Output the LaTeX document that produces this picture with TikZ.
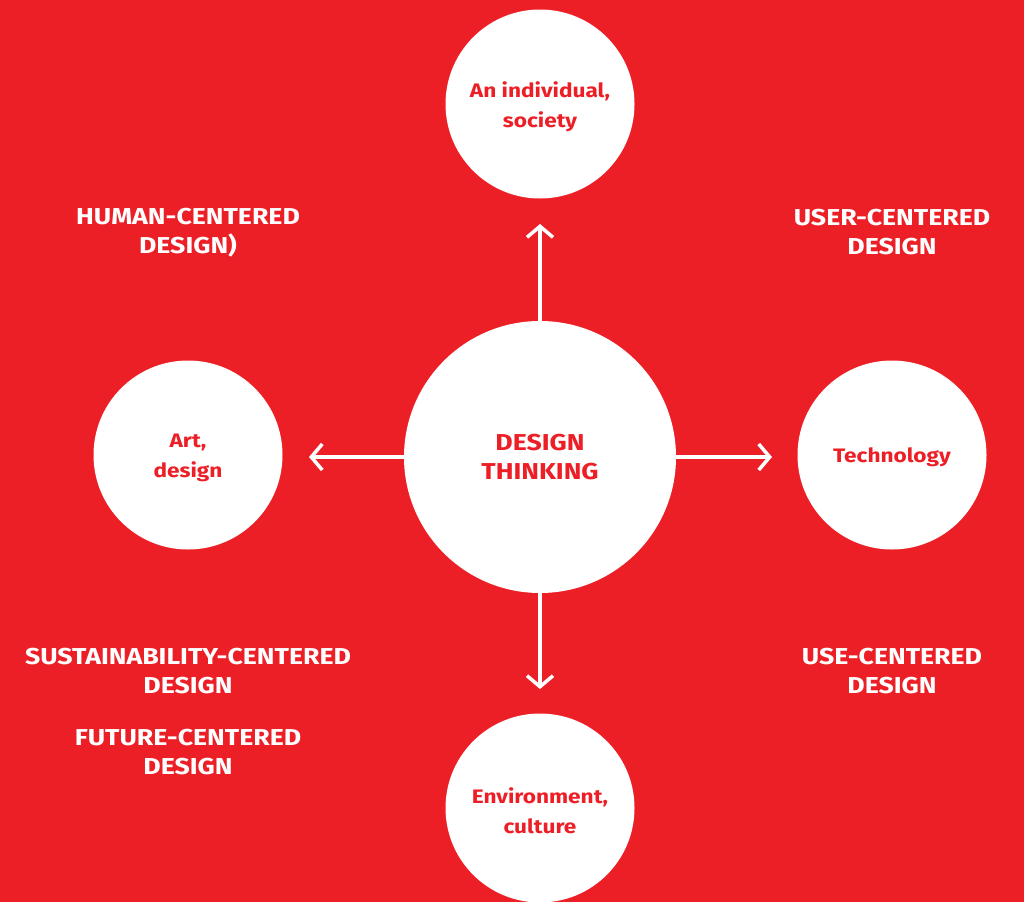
\documentclass[tikz,border=0pt]{standalone}
\usepackage{fontspec}
\setmainfont{Fira Sans}[BoldFont={* Bold},FakeStretch=1.16]
\usetikzlibrary{arrows.meta}
\definecolor{brandred}{HTML}{ED1F26}
\begin{document}
\begin{tikzpicture}[x=1pt,y=-1pt,
  hub/.style={circle,fill=white,minimum size=272pt,inner sep=0pt,text=brandred,
    font=\bfseries\fontsize{23}{29}\selectfont,align=center},
  topic/.style={circle,fill=white,minimum size=189pt,inner sep=0pt,text=brandred,
    font=\bfseries\fontsize{19.5}{30}\selectfont,align=center},
  label/.style={text=white,font=\bfseries\fontsize{23}{29}\selectfont,align=center,inner sep=0pt},
  link/.style={white,line width=3.5pt,
    -{Straight Barb[length=11pt,width=26pt,line width=3.5pt]}}]
  \fill[brandred] (0,0) rectangle (1024,902);
  \useasboundingbox (0,0) rectangle (1024,902);

  % central hub and the four topics around it
  \node[hub]   (dt)   at (540,457) {DESIGN\\THINKING};
  \node[topic] (ind)  at (540,104) {};
  \node[topic] (art)  at (188,455) {};
  \node[topic] (tech) at (892,455) {};
  \node[topic] (env)  at (540,808) {};

  % topic captions, set slightly below the circle centres
  \node[topic,fill=none,minimum size=0pt] (indt)  at (540,106.5) {An individual,\\society};
  \node[topic,fill=none,minimum size=0pt] (artt)  at (188,457.5) {Art,\\design};
  \node[topic,fill=none,minimum size=0pt] (techt) at (892,457.5) {Technology};
  \node[topic,fill=none,minimum size=0pt] (envt)  at (540,810.5) {Environment,\\culture};

  % arrow end points
  \coordinate (pu) at (540,224);
  \coordinate (pl) at (309,457);
  \coordinate (pr) at (772,457);
  \coordinate (pd) at (540,689);

  \draw[link] (dt.north) -- (pu);
  \draw[link] (dt.west)  -- (pl);
  \draw[link] (dt.east)  -- (pr);
  \draw[link] (dt.south) -- (pd);

  % design approaches
  \node[label] (hcd) at (188,233) {HUMAN-CENTERED\\DESIGN)};
  \node[label] (ucd) at (892,232) {USER-CENTERED\\DESIGN};
  \node[label] (scd) at (188,671.5) {SUSTAINABILITY-CENTERED\\DESIGN};
  \node[label] (fcd) at (188,752.5) {FUTURE-CENTERED\\DESIGN};
  \node[label] (ued) at (892,671.5) {USE-CENTERED\\DESIGN};
\end{tikzpicture}
\end{document}
